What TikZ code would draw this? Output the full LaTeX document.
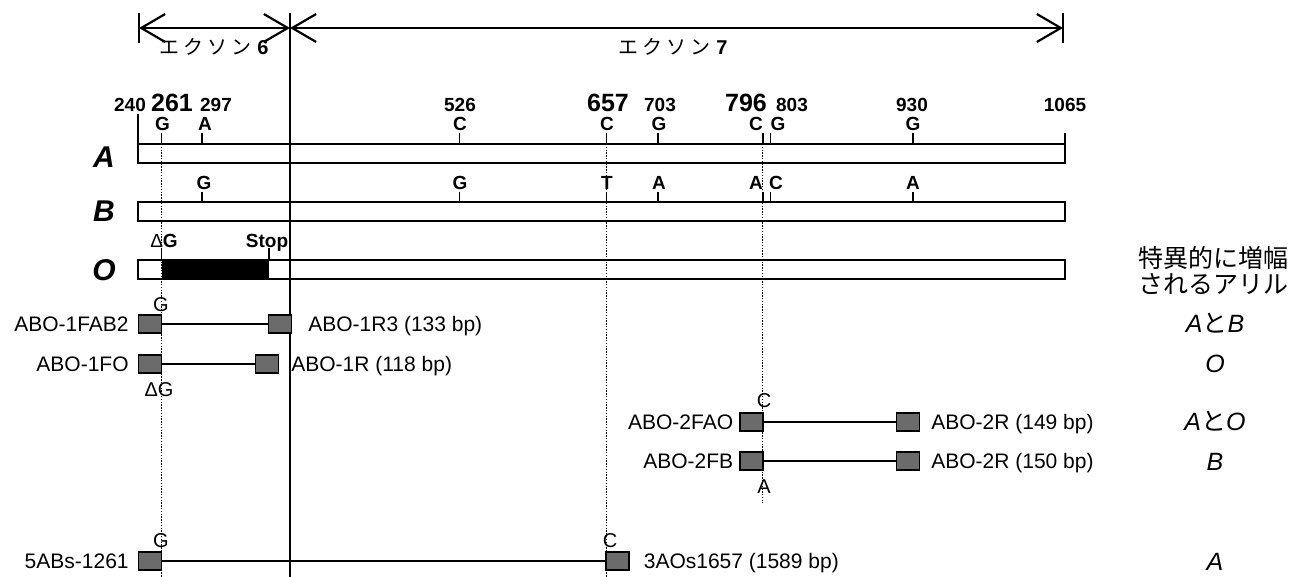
\documentclass[tikz,border=0pt]{standalone}
\usepackage{fontspec}
\setmainfont{Liberation Sans}
\newfontfamily\jp{Noto Sans CJK JP}
\usetikzlibrary{arrows.meta}
\newcommand\fsz[1]{\fontsize{#1}{#1}\selectfont}
\newcommand\exlabel[1]{{\jp\fsz{20}エ\hspace{4pt}ク\hspace{4pt}ソ\hspace{4pt}ン}\hspace{6pt}{\fsz{20}\bfseries #1}}
\begin{document}
\begin{tikzpicture}[x=1pt,y=-1pt,
  bar/.style={draw,line width=1.9pt,fill=white,minimum width=927pt,minimum height=19pt,inner sep=0pt,outer sep=0pt,anchor=north west},
  tk/.style={line width=1.7pt},
  dots/.style={line width=1.5pt,dash pattern=on 1.4pt off 1.4pt},
  prim/.style={draw,line width=1.3pt,fill=black!58,minimum width=23pt,minimum height=18pt,inner sep=0pt},
  link/.style={line width=1.5pt},
  small/.style={font=\fsz{19}\bfseries,inner sep=0pt,anchor=base},
  big/.style={font=\fsz{25}\bfseries,inner sep=0pt,anchor=base},
  nt/.style={font=\fsz{19}\bfseries,inner sep=0pt,anchor=base},
  rowlab/.style={font=\fsz{30}\bfseries\itshape,inner sep=0pt,anchor=base},
  plab/.style={font=\fsz{21},inner sep=0pt,text height=15pt,text depth=0pt},
  snp/.style={font=\fsz{20},inner sep=0pt,anchor=base},
  allele/.style={font=\fsz{25}\itshape,inner sep=0pt,anchor=base},
  head/.style={font=\jp\fsz{25},inner sep=0pt,anchor=base},
  xarr/.style={line width=2.2pt,{Straight Barb[length=24pt,width=28pt]}-{Straight Barb[length=24pt,width=28pt]}},
]
\useasboundingbox (0,0) rectangle (1294,577);

% exon arrows
\coordinate (e6a) at (139,28);
\coordinate (e6b) at (290,28);
\coordinate (e7b) at (1063,28);
\draw[xarr] (e6a) -- (e6b);
\draw[xarr] (e6b) -- (e7b);
\draw[tk,line width=2pt] (139,13) -- (139,43);
\draw[tk,line width=2pt] (1063,13) -- (1063,43);
\node[inner sep=0pt,anchor=base] (x6) at (214,55) {\exlabel{6}};
\node[inner sep=0pt,anchor=base] (x7) at (673,55) {\exlabel{7}};

% position numbers
\node[small] (n240) at (130,112) {240};
\node[big] (n261) at (172,112) {261};
\node[small] (n297) at (216,112) {297};
\node[small] (n526) at (460,112) {526};
\node[big] (n657) at (608,112) {657};
\node[small] (n703) at (660,112) {703};
\node[big] (n796) at (746,112) {796};
\node[small] (n803) at (792,112) {803};
\node[small] (n930) at (912,112) {930};
\node[small] (n1065) at (1065,112) {1065};

% bars
\node[bar] (barA) at (138,144) {};
\node[bar] (barB) at (138,202) {};
\node[bar] (barO) at (138,260) {};
\fill (161.6,260) rectangle (269,279);

\node[rowlab] (rA) at (104,168) {A};
\node[rowlab] (rB) at (104,222) {B};
\node[rowlab] (rO) at (104,281) {O};

% ticks
\draw[tk] (138,114) -- (138,144);
\foreach \x in {161.6,202.05,459.36,606.56,658.24,762.74,770.61,913.31,1065}
  \draw[tk] (\x,133) -- (\x,144);
\foreach \x in {202.05,459.36,606.56,658.24,762.74,770.61,913.31}
  \draw[tk] (\x,192) -- (\x,202);
\draw[tk] (161.6,248) -- (161.6,260);
\draw[tk] (269,248) -- (269,260);

% nucleotides A
\node[nt] (aG1) at (162.5,131) {G};
\node[nt] (aA2) at (205,131) {A};
\node[nt] (aC3) at (460,131) {C};
\node[nt] (aC4) at (607,131) {C};
\node[nt] (aG5) at (659,131) {G};
\node[nt] (aC6) at (756,131) {C};
\node[nt] (aG7) at (778,131) {G};
\node[nt] (aG8) at (913,131) {G};
% nucleotides B
\node[nt] (bG2) at (204,190) {G};
\node[nt] (bG3) at (460,190) {G};
\node[nt] (bT4) at (607,190) {T};
\node[nt] (bA5) at (659,190) {A};
\node[nt] (bA6) at (756,190) {A};
\node[nt] (bC7) at (776,190) {C};
\node[nt] (bA8) at (913,190) {A};
% O
\node[nt] (oDG) at (164,248) {{\mdseries Δ}G};
\node[nt] (oStop) at (267,248) {Stop};

% exon boundary
\draw[line width=1.7pt] (290,13) -- (290,577);

% primers
\node[prim] (p1l) at (150,324) {};
\node[prim] (p1r) at (280,324) {};
\node[prim] (p2l) at (150,364) {};
\node[prim] (p2r) at (267,364) {};
\node[prim] (p3l) at (751.5,422) {};
\node[prim] (p3r) at (908,422) {};
\node[prim] (p4l) at (751.5,461) {};
\node[prim] (p4r) at (908,461) {};
\node[prim] (p5l) at (150,561) {};
\node[prim] (p5r) at (617.5,561) {};
\draw[link] (p1l) -- (p1r);
\draw[link] (p2l) -- (p2r);
\draw[link] (p3l) -- (p3r);
\draw[link] (p4l) -- (p4r);
\draw[link] (p5l) -- (p5r);

\node[plab,anchor=east] (l1) at ([xshift=-9pt]p1l.west) {ABO-1FAB2};
\node[plab,anchor=west] (r1) at ([xshift=16pt]p1r.east) {ABO-1R3 (133 bp)};
\node[plab,anchor=east] (l2) at ([xshift=-9pt]p2l.west) {ABO-1FO};
\node[plab,anchor=west] (r2) at ([xshift=12pt]p2r.east) {ABO-1R (118 bp)};
\node[plab,anchor=east] (l3) at ([xshift=-6pt]p3l.west) {ABO-2FAO};
\node[plab,anchor=west] (r3) at ([xshift=11pt]p3r.east) {ABO-2R (149 bp)};
\node[plab,anchor=east] (l4) at ([xshift=-6pt]p4l.west) {ABO-2FB};
\node[plab,anchor=west] (r4) at ([xshift=11pt]p4r.east) {ABO-2R (150 bp)};
\node[plab,anchor=east] (l5) at ([xshift=-9pt]p5l.west) {5ABs-1261};
\node[plab,anchor=west] (r5) at ([xshift=14pt]p5r.east) {3AOs1657 (1589 bp)};

\node[snp] (s1) at (161,312) {G};
\node[snp] (s2) at (159,396) {ΔG};
\node[snp] (s3) at (764,407) {C};
\node[snp] (s4) at (764,493) {A};
\node[snp] (s5) at (161,547) {G};
\node[snp] (s6) at (610,547) {C};

% dotted lines
\draw[dots] (161.6,144) -- (161.6,577);
\draw[dots] (606.56,144) -- (606.56,577);
\draw[dots] (762.74,144) -- (762.74,503);

% allele column
\node[head] (h1) at (1213,268) {特異的に増幅};
\node[head] (h2) at (1213,294) {されるアリル};
\node[allele] (al1) at (1215,333) {A{\jp と}B};
\node[allele] (al2) at (1215,373) {O};
\node[allele] (al3) at (1215,431) {A{\jp と}O};
\node[allele] (al4) at (1215,470) {B};
\node[allele] (al5) at (1215,570) {A};
\end{tikzpicture}
\end{document}
